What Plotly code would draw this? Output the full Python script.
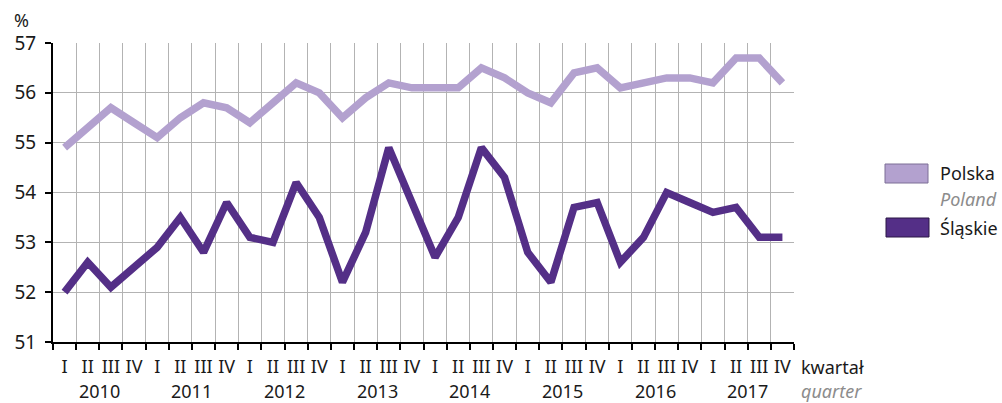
import plotly.graph_objects as go

years = ["2010", "2011", "2012", "2013", "2014", "2015", "2016", "2017"]
quarters = ["I", "II", "III", "IV"]

polska = [54.9, 55.3, 55.7, 55.4,
          55.1, 55.5, 55.8, 55.7,
          55.4, 55.8, 56.2, 56.0,
          55.5, 55.9, 56.2, 56.1,
          56.1, 56.1, 56.5, 56.3,
          56.0, 55.8, 56.4, 56.5,
          56.1, 56.2, 56.3, 56.3,
          56.2, 56.7, 56.7, 56.2]

slaskie = [52.0, 52.6, 52.1, 52.5,
           52.9, 53.5, 52.8, 53.8,
           53.1, 53.0, 54.2, 53.5,
           52.2, 53.2, 54.9, 53.8,
           52.7, 53.5, 54.9, 54.3,
           52.8, 52.2, 53.7, 53.8,
           52.6, 53.1, 54.0, 53.8,
           53.6, 53.7, 53.1, 53.1]

c_pl = "#b3a1cf"
c_sl = "#542f87"
FONT = "Noto Sans"
FS = 18

W, H = 1002, 403
L, R, T, B = 53, 794, 43, 342

n = len(polska)
x = list(range(n))
qlabels = [quarters[i % 4] for i in range(n)]

fig = go.Figure()
fig.add_trace(go.Scatter(x=x, y=polska, mode="lines", name="Polska",
                         line=dict(color=c_pl, width=7.5), showlegend=False))
fig.add_trace(go.Scatter(x=x, y=slaskie, mode="lines", name="Śląskie",
                         line=dict(color=c_sl, width=7.5), showlegend=False))

def px(xp):
    return (xp - L) / (R - L)

def py(yp):
    return (B - yp) / (B - T)

ann = []
for i, yr in enumerate(years):
    ann.append(dict(x=4 * i + 1.5, xref="x", y=py(391), yref="paper", text=yr,
                    showarrow=False, font=dict(size=FS, color="#1a1a1a", family=FONT),
                    xanchor="center", yanchor="middle"))
ann += [
    dict(x=px(799), xref="paper", y=py(367), yref="paper", text="kwartał",
         showarrow=False, xanchor="left", yanchor="middle",
         font=dict(size=FS, color="#1a1a1a", family=FONT)),
    dict(x=px(799), xref="paper", y=py(391), yref="paper", text="<i>quarter</i>",
         showarrow=False, xanchor="left", yanchor="middle",
         font=dict(size=FS, color="#8c8c8c", family=FONT)),
    dict(x=px(12), xref="paper", y=py(20), yref="paper", text="%",
         showarrow=False, xanchor="left", yanchor="middle",
         font=dict(size=FS, color="#1a1a1a", family=FONT)),
    dict(x=px(938), xref="paper", y=py(173), yref="paper", text="Polska",
         showarrow=False, xanchor="left", yanchor="middle",
         font=dict(size=FS, color="#1a1a1a", family=FONT)),
    dict(x=px(938), xref="paper", y=py(199), yref="paper", text="<i>Poland</i>",
         showarrow=False, xanchor="left", yanchor="middle",
         font=dict(size=FS, color="#8c8c8c", family=FONT)),
    dict(x=px(938), xref="paper", y=py(228), yref="paper", text="Śląskie",
         showarrow=False, xanchor="left", yanchor="middle",
         font=dict(size=FS, color="#1a1a1a", family=FONT)),
]

shapes = [
    dict(type="rect", xref="paper", yref="paper", x0=px(885), x1=px(928),
         y0=py(183), y1=py(164), fillcolor=c_pl, line=dict(color="#7d6e96", width=1)),
    dict(type="rect", xref="paper", yref="paper", x0=px(886), x1=px(929),
         y0=py(237), y1=py(218), fillcolor=c_sl, line=dict(color="#2a1745", width=1)),
]

fig.update_layout(
    width=W, height=H,
    margin=dict(l=L, r=W - R, t=T, b=H - B, pad=0),
    paper_bgcolor="white", plot_bgcolor="white",
    font=dict(family=FONT, size=FS, color="#1a1a1a"),
    annotations=ann, shapes=shapes,
    xaxis=dict(range=[-0.5, n - 0.5], tickmode="array", tickvals=x, ticktext=qlabels,
               showgrid=False, ticks="", zeroline=False,
               showline=True, linecolor="black", linewidth=2,
               tickfont=dict(size=FS, family=FONT, color="#1a1a1a"),
               ticklabelstandoff=7,
               minor=dict(tick0=-0.5, dtick=1, showgrid=True, gridcolor="#b3b3b3",
                          gridwidth=1, ticks="outside", ticklen=6, tickcolor="black",
                          tickwidth=1.5)),
    yaxis=dict(range=[51, 57], tickvals=[51, 52, 53, 54, 55, 56, 57],
               showgrid=True, gridcolor="#b3b3b3", gridwidth=1, zeroline=False,
               showline=True, linecolor="black", linewidth=2,
               ticks="outside", ticklen=6, tickcolor="black", tickwidth=1.5,
               tickfont=dict(size=19, family=FONT, color="#1a1a1a"),
               ticklabelstandoff=5),
)

fig.write_html("out.html", config={"displayModeBar": False},
               post_script="document.body.style.margin='0';document.body.style.overflow='hidden';")
